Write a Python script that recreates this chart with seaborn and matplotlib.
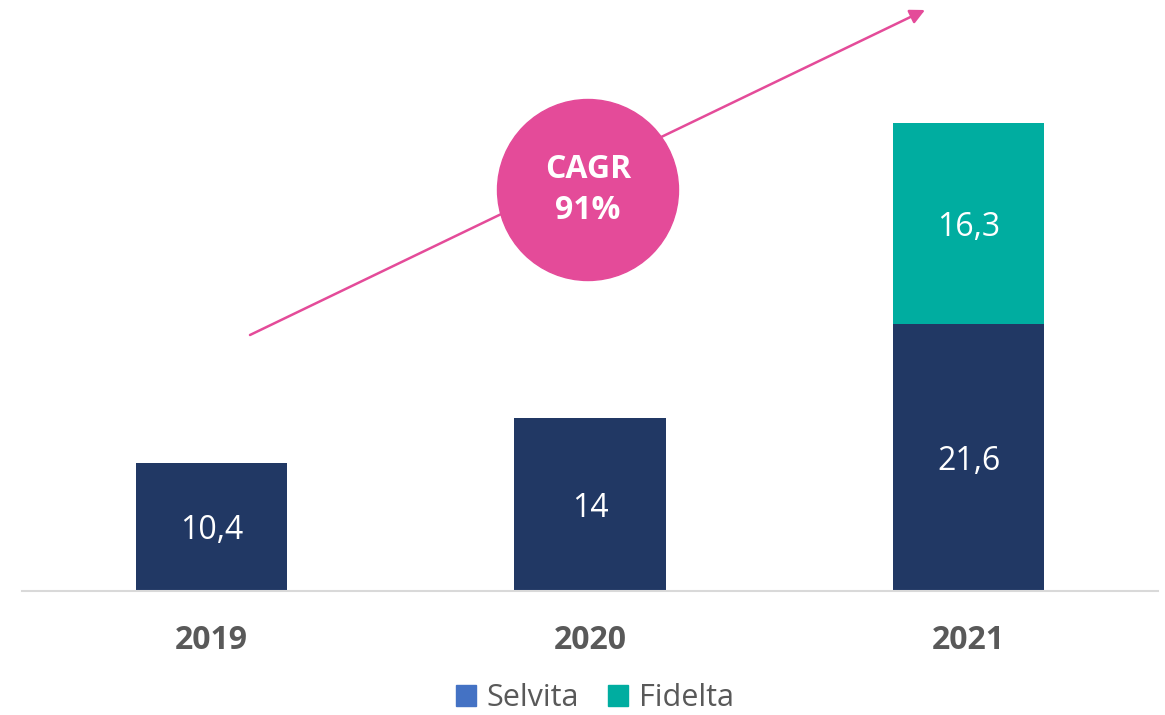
import pandas as pd
import seaborn as sns
import matplotlib.pyplot as plt
from matplotlib.patches import Patch, Ellipse

years = ["2019", "2020", "2021"]
selvita = [10.4, 14.0, 21.6]
fidelta = [0.0, 0.0, 16.3]
series_names = ["Selvita", "Fidelta"]
cagr_text = "CAGR\n91%"

navy = "#213864"
teal = "#00ADA0"
legend_blue = "#4472C4"
pink = "#E44B99"
grey_text = "#595959"

sns.set_theme(style="white")
plt.rcParams["font.family"] = ["Open Sans", "DejaVu Sans"]

df = pd.DataFrame({"year": years, "Selvita": selvita, "Fidelta": fidelta})
df["total"] = df["Selvita"] + df["Fidelta"]

W, H = 1165, 715
fig = plt.figure(figsize=(W / 100, H / 100), dpi=100)
ax = fig.add_axes([22 / W, 1 - 591 / H, (1158 - 22) / W, 591 / H])

# stacked look: total first (teal), then Selvita over it
sns.barplot(data=df, x="year", y="total", color=teal, saturation=1, width=0.4,
            linewidth=0, ax=ax)
sns.barplot(data=df, x="year", y="Selvita", color=navy, saturation=1, width=0.4,
            linewidth=0, ax=ax)

ax.set_ylim(0, 47.9)
ax.set_xlim(-0.5, 2.5)

def fmt(v):
    s = f"{v:.1f}".rstrip("0").rstrip(".")
    return s.replace(".", ",")

for i, row in df.iterrows():
    ax.text(i, row["Selvita"] / 2, fmt(row["Selvita"]), ha="center",
            va="center_baseline", color="white", fontsize=23)
    if row["Fidelta"] > 0:
        ax.text(i, row["Selvita"] + row["Fidelta"] / 2, fmt(row["Fidelta"]),
                ha="center", va="center_baseline", color="white", fontsize=23)

ax.set_xlabel("")
ax.set_ylabel("")
ax.set_yticks([])
for s in ["top", "right", "left"]:
    ax.spines[s].set_visible(False)
ax.spines["bottom"].set_color("#D9D9D9")
ax.spines["bottom"].set_linewidth(1.5)
ax.tick_params(axis="x", length=0, pad=24, labelsize=23, labelcolor=grey_text)
for t in ax.get_xticklabels():
    t.set_fontweight("bold")

# growth arrow and CAGR bubble
fig.add_artist(plt.Annotation(
    "", xy=(925 / W, 1 - 10 / H), xytext=(250 / W, 1 - 335 / H),
    xycoords="figure fraction", textcoords="figure fraction",
    arrowprops=dict(arrowstyle="-|>", color=pink, lw=1.8, mutation_scale=22,
                    shrinkA=0, shrinkB=0)))
fig.add_artist(Ellipse((588 / W, 1 - 190 / H), 181 / W, 181 / H,
                       transform=fig.transFigure, color=pink, zorder=5))
fig.text(588 / W, 1 - 190 / H, cagr_text, ha="center", va="center", color="white",
         fontsize=23, fontweight="bold", linespacing=1.3, zorder=6)

handles = [Patch(color=legend_blue), Patch(color=teal)]
fig.legend(handles, series_names, loc="center", bbox_to_anchor=(595 / W, 1 - 698 / H),
           ncol=2, frameon=False, fontsize=22, labelcolor=grey_text,
           handlelength=0.66, handleheight=0.66, handletextpad=0.35,
           columnspacing=0.95, borderpad=0, borderaxespad=0)

fig.savefig("out.png", dpi=100)
